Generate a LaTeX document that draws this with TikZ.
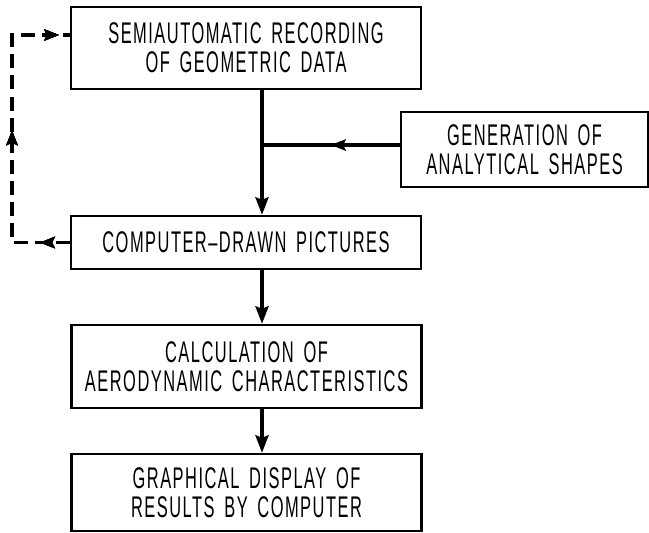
\documentclass[tikz,border=0pt]{standalone}
\usepackage{fontspec}
\setmainfont{Liberation Sans}[FakeStretch=0.55,LetterSpace=5,WordSpace=1.6]
\usetikzlibrary{arrows.meta,decorations.markings}
\tikzset{
  blockbox/.style={draw, line width=1.4pt, align=center, inner sep=0pt,
    minimum width=7cm, font=\fontsize{17}{16.5}\selectfont},
  flowline/.style={line width=1.8pt},
  fbline/.style={line width=1.8pt, dash pattern=on 8pt off 4pt},
  tipmark/.style={postaction={decorate}, decoration={markings,
    mark=at position #1 with {\arrow[solid]{Stealth[length=8.5pt,width=6.5pt,inset=1.5pt]}}}},
}

\begin{document}
\begin{tikzpicture}[x=0.02cm, y=-0.02cm]
\useasboundingbox (0,0) rectangle (649,532);

% blocks
\node[blockbox, minimum height=1.64cm] (record) at (246,48) {SEMIAUTOMATIC RECORDING\\OF GEOMETRIC DATA};
\node[blockbox, minimum width=4.94cm, minimum height=1.5cm] (shapes) at (524.5,149.5) {GENERATION OF\\ANALYTICAL SHAPES};
\node[blockbox, minimum height=1.06cm] (pictures) at (246,242.5) {COMPUTER--DRAWN PICTURES};
\node[blockbox, minimum height=1.66cm] (aero) at (246.5,366.5) {CALCULATION OF\\AERODYNAMIC CHARACTERISTICS};
\node[blockbox, minimum height=1.54cm] (display) at (246.5,492.5) {GRAPHICAL DISPLAY OF\\RESULTS BY COMPUTER};

\coordinate (junc) at (262,145);
\coordinate (fbbot) at (12,242.5);
\coordinate (fbtop) at (12,35);

% main flow
\draw[flowline, -{Stealth[length=10pt,width=7.5pt,inset=1.5pt]}] (record.south -| junc) -- (pictures.north -| junc);
\draw[flowline, tipmark=0.5] (shapes.west |- junc) -- (junc);
\draw[flowline, -{Stealth[length=10pt,width=7.5pt,inset=1.5pt]}] (pictures.south -| junc) -- (aero.north -| junc);
\draw[flowline, -{Stealth[length=10pt,width=7.5pt,inset=1.5pt]}] (aero.south -| junc) -- (display.north -| junc);

% feedback loop
\draw[fbline, tipmark=0.6cm, tipmark=3.4cm, tipmark=6.25cm] (pictures.west) -- (fbbot) -- (fbtop) -- (record.west |- fbtop);
\end{tikzpicture}
\end{document}
